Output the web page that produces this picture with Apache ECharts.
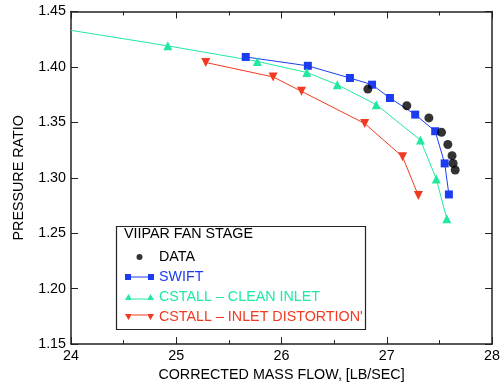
<!DOCTYPE html>
<html>
<head>
<meta charset="utf-8">
<script src="https://cdn.jsdelivr.net/npm/echarts@6/dist/echarts.min.js"></script>
<style>
  html, body { margin: 0; padding: 0; background: #fff; }
  #chart { width: 503px; height: 387px; }
</style>
</head>
<body>
<div id="chart"></div>
<script>
// mass flow / pressure ratio pairs
const dataFlow = [26.82, 27.19, 27.40, 27.52, 27.58, 27.62, 27.63, 27.65];
const dataPR   = [1.380, 1.365, 1.354, 1.341, 1.330, 1.320, 1.313, 1.307];

const swiftFlow = [25.66, 26.25, 26.65, 26.86, 27.03, 27.27, 27.46, 27.55, 27.59];
const swiftPR   = [1.409, 1.401, 1.390, 1.384, 1.372, 1.357, 1.342, 1.313, 1.285];

const cleanFlow = [24.00, 24.92, 25.77, 26.24, 26.53, 26.90, 27.32, 27.47, 27.57];
const cleanPR   = [1.433, 1.419, 1.405, 1.395, 1.384, 1.366, 1.334, 1.299, 1.263];

const distFlow = [25.28, 25.92, 26.19, 26.79, 27.15, 27.30];
const distPR   = [1.404, 1.391, 1.378, 1.349, 1.319, 1.284];

const seriesNames = ['DATA', 'SWIFT', 'CSTALL \u2013 CLEAN INLET', "CSTALL \u2013 INLET DISTORTION'"];

const BLUE = '#1c3cf2';
const GREEN = '#22e8a0';
const RED = '#f23a22';
const FONT = 'Liberation Sans, Arial, sans-serif';
const FS = 14.3;

function pairs(xs, ys) {
    return xs.map((x, i) => [x, ys[i]]);
}

const chart = echarts.init(document.getElementById('chart'));

const axisLine = { lineStyle: { color: '#222', width: 1.5 } };
const xTicks = {
    axisTick: { inside: true, length: 7, lineStyle: { color: '#222', width: 1 } },
    minorTick: { show: true, splitNumber: 2, length: 4, lineStyle: { color: '#222', width: 1 } },
    splitLine: { show: false },
    minorSplitLine: { show: false }
};
const yTicks = {
    axisTick: { inside: true, length: 7, lineStyle: { color: '#222', width: 1 } },
    splitLine: { show: false }
};

chart.setOption({
    animation: false,
    textStyle: { fontFamily: FONT },
    grid: { left: 71, right: 6, top: 11.5, bottom: 34.5 },
    xAxis: [{
        type: 'value', min: 24, max: 28, interval: 1, position: 'bottom',
        axisLine: axisLine, ...xTicks,
        axisLabel: { color: '#000', fontSize: FS, margin: 5, fontFamily: FONT },
        name: 'CORRECTED MASS FLOW, [LB/SEC]', nameLocation: 'middle', nameGap: 20,
        nameTextStyle: { color: '#000', fontSize: FS, fontFamily: FONT }
    }, {
        type: 'value', min: 24, max: 28, interval: 1, position: 'top',
        axisLine: axisLine, ...xTicks, axisLabel: { show: false }
    }],
    yAxis: [{
        type: 'value', min: 1.15, max: 1.45, interval: 0.05, position: 'left',
        axisLine: axisLine, ...yTicks,
        axisLabel: { color: '#000', fontSize: FS, margin: 5, fontFamily: FONT,
            formatter: v => v.toFixed(2) },
        name: 'PRESSURE RATIO', nameLocation: 'middle', nameGap: 45, nameRotate: 90,
        nameTextStyle: { color: '#000', fontSize: FS, fontFamily: FONT }
    }, {
        type: 'value', min: 1.15, max: 1.45, interval: 0.05, position: 'right',
        axisLine: axisLine, ...yTicks, axisLabel: { show: false }
    }],
    legend: {
        orient: 'vertical', left: 120, top: 245,
        itemWidth: 29, itemHeight: 6, itemGap: 6,
        textStyle: { fontSize: FS, fontFamily: FONT },
        data: [
            { name: seriesNames[0], icon: 'circle', textStyle: { color: '#000' } },
            { name: seriesNames[1], icon: 'path://M0,0h6v6h-6zM6,2.5h17v1h-17zM23,0h6v6h-6z', textStyle: { color: BLUE } },
            { name: seriesNames[2], icon: 'path://M0,6L3.5,0L7,6zM7,4.5h15v1h-15zM22,6L25.5,0L29,6z', textStyle: { color: GREEN } },
            { name: seriesNames[3], icon: 'path://M0,0L3.5,6L7,0zM7,0.5h15v1h-15zM22,0L25.5,6L29,0z', textStyle: { color: RED } }
        ]
    },
    graphic: [{
        type: 'rect', left: 114, top: 224,
        shape: { width: 249, height: 103 },
        style: { fill: 'none', stroke: '#222', lineWidth: 1.2 }
    }, {
        type: 'text', left: 124, top: 227,
        style: { text: 'VIIPAR FAN STAGE', fill: '#000', font: FS + 'px ' + FONT }
    }],
    series: [{
        name: seriesNames[1], type: 'line', data: pairs(swiftFlow, swiftPR),
        symbol: 'rect', symbolSize: 8, showAllSymbol: true,
        lineStyle: { color: BLUE, width: 1 }, itemStyle: { color: BLUE }
    }, {
        name: seriesNames[2], type: 'line', data: pairs(cleanFlow, cleanPR).map((p, i) =>
            i === 0 ? { value: p, symbol: 'none' } : p),
        symbol: 'triangle', symbolSize: 9, showAllSymbol: true,
        lineStyle: { color: GREEN, width: 1 }, itemStyle: { color: GREEN }
    }, {
        name: seriesNames[3], type: 'line', data: pairs(distFlow, distPR),
        symbol: 'triangle', symbolRotate: 180, symbolSize: 9, showAllSymbol: true,
        lineStyle: { color: RED, width: 1 }, itemStyle: { color: RED }
    }, {
        name: seriesNames[0], type: 'scatter', data: pairs(dataFlow, dataPR),
        symbol: 'circle', symbolSize: 9, itemStyle: { color: '#000' }, z: 3
    }]
});
</script>
</body>
</html>
